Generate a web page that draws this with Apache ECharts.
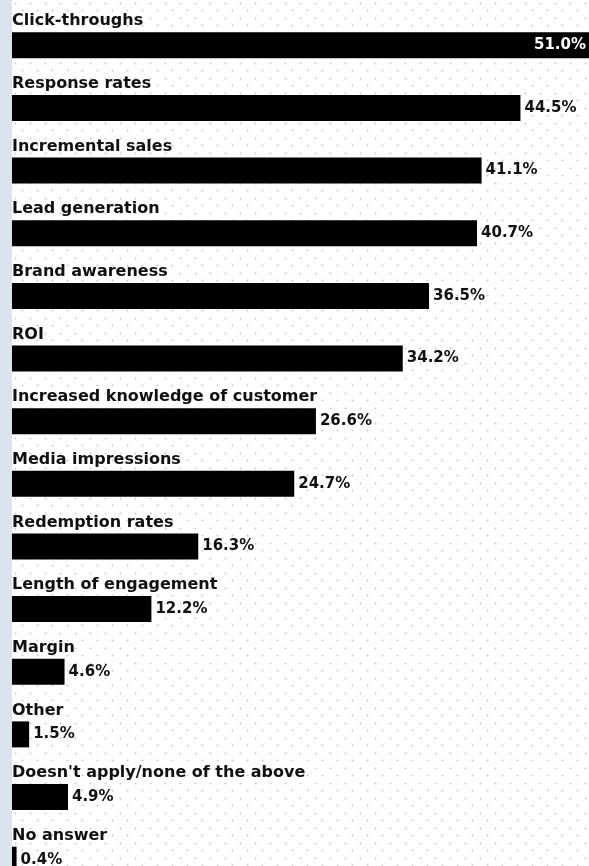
<!DOCTYPE html>
<html>
<head>
<meta charset="utf-8">
<script src="https://cdn.jsdelivr.net/npm/echarts@6/dist/echarts.min.js"></script>
<style>
  html, body { margin: 0; padding: 0; background: #fff; }
  #chart { width: 589px; height: 866px; }
</style>
</head>
<body>
<div id="chart"></div>
<script>
// data
const categories = [
  'Click-throughs', 'Response rates', 'Incremental sales', 'Lead generation',
  'Brand awareness', 'ROI', 'Increased knowledge of customer', 'Media impressions',
  'Redemption rates', 'Length of engagement', 'Margin', 'Other',
  "Doesn't apply/none of the above", 'No answer'
];
const values = [51.0, 44.5, 41.1, 40.7, 36.5, 34.2, 26.6, 24.7, 16.3, 12.2, 4.6, 1.5, 4.9, 0.4];

const FONT = 'DejaVu Sans';

// dotted background tile
function dotTile() {
  const c = document.createElement('canvas');
  c.width = 15; c.height = 15;
  const ctx = c.getContext('2d');
  ctx.fillStyle = '#fff';
  ctx.fillRect(0, 0, 15, 15);
  ctx.fillStyle = '#cfcfcf';
  ctx.fillRect(3, 3, 1, 1);
  ctx.fillRect(10, 10, 1, 1);
  ctx.fillStyle = '#e6e6e6';
  ctx.fillRect(2, 3, 1, 1); ctx.fillRect(4, 3, 1, 1); ctx.fillRect(3, 2, 1, 1); ctx.fillRect(3, 4, 1, 1);
  ctx.fillRect(9, 10, 1, 1); ctx.fillRect(11, 10, 1, 1); ctx.fillRect(10, 9, 1, 1); ctx.fillRect(10, 11, 1, 1);
  return c;
}

const el = document.getElementById('chart');
const chart = echarts.init(el, null, { renderer: 'canvas' });

const valueData = values.map((v, i) => i === 0
  ? { value: v, label: { position: 'insideRight', distance: 3, color: '#fff' } }
  : v);

const option = {
  animation: false,
  backgroundColor: '#fff',
  graphic: [
    { type: 'rect', z: -10, left: 12, top: 0, shape: { width: 577, height: 866 },
      style: { fill: { image: dotTile(), repeat: 'repeat' } }, silent: true },
    { type: 'rect', z: -10, left: 0, top: 0, shape: { width: 12, height: 866 },
      style: { fill: '#dce2ee' }, silent: true }
  ],
  // bottom row runs off the picture, so the grid does too
  grid: { left: 12, right: 0, top: 14, bottom: -25, outerBoundsMode: 'none' },
  xAxis: { type: 'value', min: 0, max: 50.5, show: false },
  yAxis: { type: 'category', data: categories, inverse: true, show: false },
  series: [
    {
      name: 'value', type: 'bar', data: valueData, barWidth: 26, barGap: '-100%',
      itemStyle: { color: '#000' },
      label: {
        show: true, position: 'right', distance: 4,
        color: '#111', fontFamily: FONT, fontWeight: 'bold', fontSize: 15,
        formatter: p => p.value.toFixed(1) + '%'
      }
    },
    {
      name: 'names', type: 'bar', data: values, barWidth: 26, barGap: '-100%', silent: true,
      itemStyle: { color: 'rgba(0,0,0,0)' },
      label: {
        show: true, position: [0, -3], align: 'left', verticalAlign: 'bottom',
        color: '#111', fontFamily: FONT, fontWeight: 'bold', fontSize: 16,
        formatter: p => p.name
      }
    }
  ]
};

chart.setOption(option);
</script>
</body>
</html>
